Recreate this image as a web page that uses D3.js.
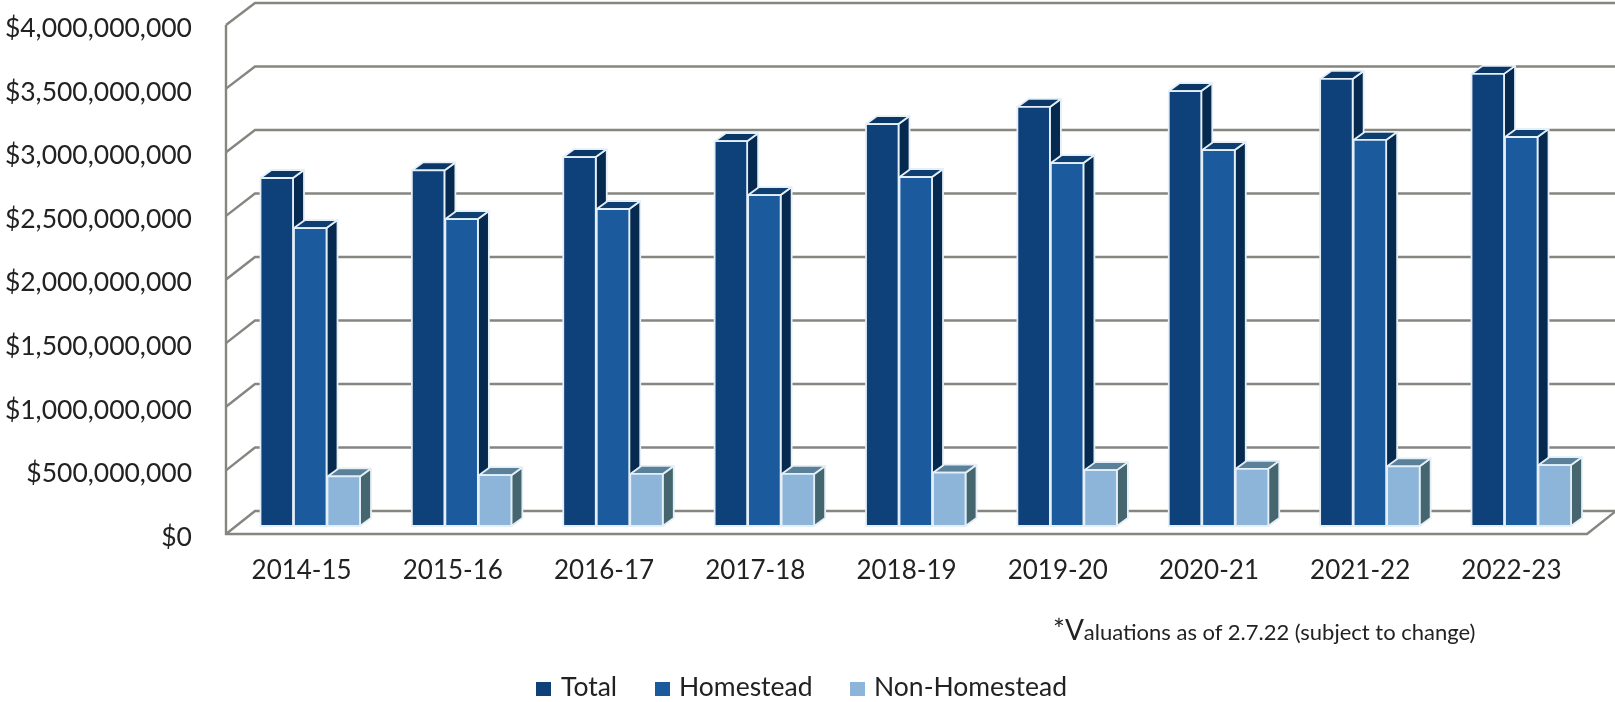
<!DOCTYPE html>
<html><head><meta charset="utf-8">
<script src="https://cdn.jsdelivr.net/npm/d3@7"></script>
<style>html,body{margin:0;padding:0;background:#fff}svg{display:block;filter:blur(0.45px)}text{font-family:Lato,"Open Sans",sans-serif;fill:#222}</style>
</head><body><svg id="c" width="1615" height="702"></svg>
<script>
const categories=["2014-15","2015-16","2016-17","2017-18","2018-19","2019-20","2020-21","2021-22","2022-23"];
const seriesNames=["Total","Homestead","Non-Homestead"];
const total=[2.74e9,2.80e9,2.905e9,3.03e9,3.165e9,3.30e9,3.425e9,3.52e9,3.56e9];
const homestead=[2.346e9,2.417e9,2.496e9,2.606e9,2.748e9,2.858e9,2.96e9,3.04e9,3.063e9];
const nonHomestead=[0.39e9,0.40e9,0.41e9,0.41e9,0.42e9,0.44e9,0.45e9,0.47e9,0.48e9];
const ticks=[0,5e8,1e9,1.5e9,2e9,2.5e9,3e9,3.5e9,4e9];
const seriesValues=[total,homestead,nonHomestead];
const front=["#0e4079","#1b5a9d","#8db5da"], topFace=["#0b3766","#0f3e70","#5b8099"], sideFace=["#06294f","#06294f","#46666f"];

const svg=d3.select("#c");
const dx=29,bdx=11,bdy=8;
const yFront=d3.scaleLinear().domain([0,4e9]).range([534,25]);
const yBack=d3.scaleLinear().domain([0,4e9]).range([511,3]);
const yBar=d3.scaleLinear().domain([0,4e9]).range([526,18]);
const xLabel=d3.scaleBand().domain(categories).range([226,1587]);
const xBar=d3.scaleBand().domain(categories).range([233.6,1596]);
const xSeries=d3.scaleBand().domain(seriesNames).range([26.4,126.9]);
const left=226,right=1587,grid="#858680";

// gridlines: front edge, diagonal, back wall
const g=svg.append("g").attr("fill","none").attr("stroke",grid).attr("stroke-width",2.4);
ticks.forEach(t=>{
  g.append("path").attr("d",d3.line()([[left,yFront(t)],[left+dx,yBack(t)],[1615,yBack(t)]]));
});
g.append("path").attr("d",d3.line()([[left,yFront(4e9)],[left,yFront(0)],[right,yFront(0)],[right+dx,yBack(0)]]));

// bars
const pt=p=>p.map(q=>q.join(",")).join(" ");
categories.forEach((c,i)=>{
  const bar=svg.append("g");
  seriesNames.forEach((s,k)=>{
    const x0=xBar(c)+xSeries(s)+.5, x1=x0+xSeries.bandwidth()-1;
    const v=seriesValues[k][i], t=yBar(v), b=yBar(0);
    const add=(fill,pts)=>bar.append("polygon").attr("points",pt(pts)).attr("fill",fill)
      .attr("stroke","#e4eff7").attr("stroke-width",1.8).attr("stroke-linejoin","round");
    add(sideFace[k],[[x1,t],[x1+bdx,t-bdy],[x1+bdx,b-bdy],[x1,b]]);
    add(topFace[k],[[x0,t],[x0+bdx,t-bdy],[x1+bdx,t-bdy],[x1,t]]);
    add(front[k],[[x0,t],[x1,t],[x1,b],[x0,b]]);
  });
});

// y axis labels
const yAxis=d3.axisLeft(yFront).tickValues(ticks).tickSize(0).tickPadding(0)
  .tickFormat(d=>"$"+d3.format(",")(d));
svg.append("g").attr("transform","translate(192,3)").call(yAxis)
  .call(a=>a.select(".domain").remove())
  .selectAll("text").style("font-size","26.5px").style("font-family","Lato,sans-serif").attr("fill","#222");

// x axis labels
const xAxis=d3.axisBottom(xLabel).tickSize(0).tickPadding(0);
svg.append("g").attr("transform","translate(0,561)").call(xAxis)
  .call(a=>a.select(".domain").remove())
  .selectAll("text").style("font-size","26px").style("font-family","Lato,sans-serif").attr("fill","#222");

// note
const note=svg.append("text").attr("x",1053).attr("y",640);
note.append("tspan").text("*V").style("font-size","28px");
note.append("tspan").text("aluations as of 2.7.22 (subject to change)").style("font-size","22px");

// legend
const legendSwatchX=[536,655,850], legendTextX=[561,679,874];
seriesNames.forEach((s,k)=>{
  svg.append("rect").attr("x",legendSwatchX[k]).attr("y",682).attr("width",15).attr("height",14).attr("fill",front[k]);
  svg.append("text").attr("x",legendTextX[k]).attr("y",696).text(s).style("font-size","26.5px");
});
</script></body></html>
